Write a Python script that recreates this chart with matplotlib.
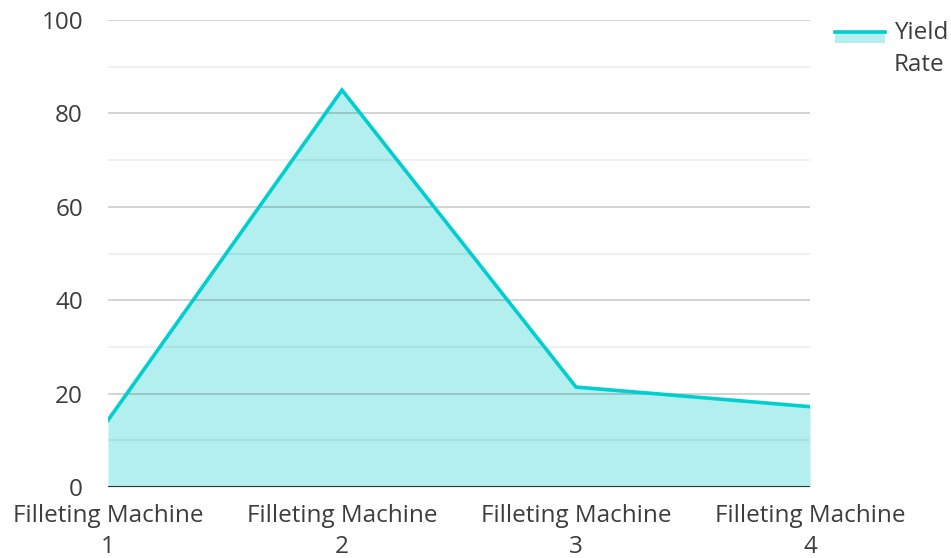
import matplotlib
matplotlib.use("Agg")
import matplotlib.pyplot as plt
from matplotlib.patches import Rectangle
from matplotlib.lines import Line2D

categories = ["Filleting Machine\n1", "Filleting Machine\n2", "Filleting Machine\n3", "Filleting Machine\n4"]
yield_rate = [14.3, 85.0, 21.4, 17.2]
series_name = "Yield\nRate"
y_ticks = [0, 20, 40, 60, 80, 100]

plt.rcParams['font.family'] = ['Open Sans', 'DejaVu Sans']
W, H = 951, 558
FS = 17.5
fig = plt.figure(figsize=(W / 100, H / 100), dpi=100)
ax = fig.add_axes([108 / W, 1 - 487 / H, (810 - 108) / W, (487 - 20) / H])

x = list(range(len(categories)))
ax.set_xlim(0, len(categories) - 1)
ax.set_ylim(0, 100)

for v in range(10, 100, 20):
    ax.axhline(v, color='black', alpha=0.08, lw=1.1, zorder=3)
for v in range(20, 101, 20):
    ax.axhline(v, color='black', alpha=0.21, lw=1.1, zorder=3)

ax.fill_between(x, yield_rate, 0, color='#b2efee', lw=0, zorder=2)
ax.plot(x, yield_rate, color='#00cecf', lw=2.6, zorder=4, solid_joinstyle='miter')
ax.axhline(0, color='#333333', lw=2.2, zorder=5)

for s in ax.spines.values():
    s.set_visible(False)
ax.set_yticks(y_ticks)
ax.set_yticklabels([str(t) for t in y_ticks])
ax.set_xticks(x)
ax.set_xticklabels(categories, linespacing=1.42)
ax.tick_params(axis='both', length=0, labelsize=FS, labelcolor='#3d3d3d')
ax.tick_params(axis='y', pad=18)
ax.tick_params(axis='x', pad=12)

# legend
fig.add_artist(Rectangle((835 / W, 1 - 43 / H), 50 / W, 10 / H, transform=fig.transFigure,
                         color='#b2efee', lw=0))
fig.add_artist(Line2D([835 / W, 885 / W], [1 - 31.5 / H, 1 - 31.5 / H], transform=fig.transFigure,
                      color='#00cecf', lw=2.6))
fig.text(894 / W, 1 - 49 / H, series_name, fontsize=FS, color='#3d3d3d', va='center',
         ha='left', linespacing=1.42)

fig.savefig("out.png", dpi=100)
